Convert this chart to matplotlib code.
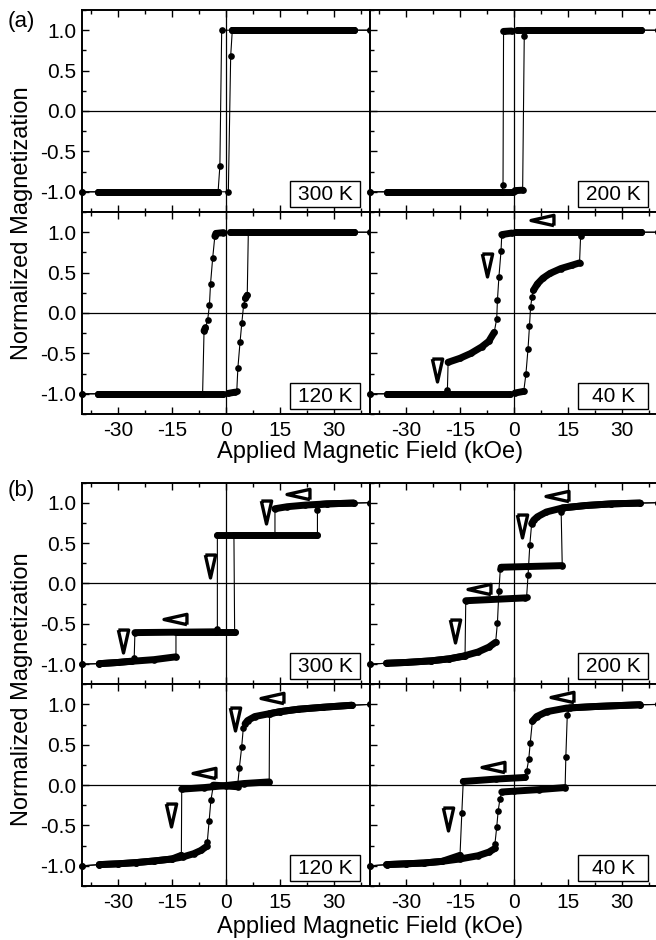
import matplotlib.pyplot as plt
from matplotlib.patches import Rectangle
from matplotlib.ticker import MultipleLocator

plt.rcParams['font.family'] = ['Liberation Sans', 'DejaVu Sans']
plt.rcParams['axes.unicode_minus'] = False

# Each branch: (field kOe, normalized M, 1 if the run to the next point is densely sampled)

# (a) 300 K
A300_DOWN = [(40, 1, 0), (35.5, 1, 1), (1.75, 1, 0), (-1.2, 1, 0), (-1.7, -0.68, 0),
             (-2.2, -1, 1), (-35.5, -1, 0), (-40, -1, 0)]
A300_UP = [(-40, -1, 0), (-35.5, -1, 1), (-2.2, -1, 0), (0.65, -1, 0), (1.3, 0.68, 0),
           (1.75, 1, 1), (35.5, 1, 0), (40, 1, 0)]

# (a) 200 K
A200_DOWN = [(40, 1, 0), (35.3, 1, 1), (0.75, 1, 0), (-0.65, 0.99, 1), (-2.9, 0.985, 0),
             (-3.05, -0.91, 0), (-3.3, -1, 1), (-35.4, -1, 0), (-40, -1, 0)]
A200_UP = [(-40, -1, 0), (-35.4, -1, 1), (-0.2, -1, 0), (0.3, -0.985, 1), (2.4, -0.98, 0),
           (2.85, 0.93, 0), (3.3, 1, 1), (35.3, 1, 0), (40, 1, 0)]

# (a) 120 K
A120_DOWN = [(40, 1, 0), (35.5, 1, 1), (1.1, 1, 0), (-0.7, 0.995, 1), (-2.8, 0.985, 1),
             (-3.1, 0.95, 0), (-3.7, 0.68, 0), (-4.3, 0.36, 0), (-4.6, 0.10, 0),
             (-5.1, -0.09, 0), (-5.7, -0.18, 1), (-6.1, -0.22, 0), (-6.5, -1, 1),
             (-35.5, -1, 0), (-40, -1, 0)]
A120_UP = [(-40, -1, 0), (-35.5, -1, 1), (-0.7, -1, 0), (0.6, -0.995, 1), (2.5, -0.98, 0),
           (3.0, -0.96, 0), (3.3, -0.68, 0), (3.9, -0.36, 0), (4.4, -0.12, 0),
           (4.9, 0.10, 0), (5.4, 0.18, 1), (5.9, 0.22, 0), (6.2, 1, 1), (35.5, 1, 0),
           (40, 1, 0)]

# (a) 40 K
A40_DOWN = [(40, 1, 0), (35.3, 1, 1), (0.3, 1, 0), (-0.6, 0.99, 1), (-3.4, 0.97, 0),
            (-3.6, 0.77, 0), (-4.2, 0.44, 0), (-4.6, 0.16, 0), (-4.8, -0.07, 0),
            (-5.5, -0.24, 1), (-7, -0.35, 1), (-9, -0.42, 1), (-12, -0.5, 1),
            (-15, -0.56, 1), (-18.3, -0.61, 0), (-18.5, -0.95, 0), (-19, -1, 1),
            (-35.3, -1, 0), (-40, -1, 0)]
A40_UP = [(-40, -1, 0), (-35.3, -1, 1), (-1.1, -1, 0), (0.3, -0.99, 1), (2.7, -0.97, 0),
          (3.3, -0.76, 0), (3.9, -0.44, 0), (4.3, -0.16, 0), (4.6, 0.07, 0),
          (5.0, 0.20, 0), (5.4, 0.28, 1), (6.5, 0.36, 1), (8, 0.43, 1), (10, 0.49, 1),
          (13, 0.55, 1), (16, 0.59, 1), (18.2, 0.62, 0), (18.5, 0.95, 0), (19, 1, 1),
          (35.3, 1, 0), (40, 1, 0)]

# (b) 300 K
B300_DOWN = [(40, 1, 0), (35.5, 0.995, 1), (28, 0.985, 1), (22, 0.97, 1), (17, 0.95, 1),
             (13.6, 0.925, 0), (13.6, 0.6, 1), (-2.4, 0.6, 0), (-2.4, -0.57, 0),
             (-2.7, -0.6, 1), (-25.3, -0.61, 0), (-25.5, -0.92, 0), (-26.5, -0.965, 1),
             (-30, -0.98, 1), (-35.2, -0.995, 0), (-40, -1, 0)]
B300_UP = [(-40, -1, 0), (-35.2, -0.995, 1), (-30, -0.98, 1), (-26, -0.965, 1),
           (-20, -0.945, 1), (-13.9, -0.91, 0), (-13.9, -0.6, 1), (2.4, -0.6, 0),
           (2.2, 0.6, 1), (25.4, 0.6, 0), (25.4, 0.91, 0), (26.2, 0.978, 1),
           (28, 0.985, 1), (35.5, 0.995, 0), (40, 1, 0)]

# (b) 200 K
B200_DOWN = [(40, 1, 0), (35, 0.995, 1), (27, 0.985, 1), (20, 0.965, 1), (13.5, 0.935, 1),
             (9, 0.885, 1), (6.5, 0.825, 1), (5.5, 0.785, 1), (4.9, 0.74, 0),
             (4.4, 0.48, 0), (3.9, 0.10, 0), (3.5, -0.17, 0), (3.1, -0.18, 1),
             (-13.4, -0.215, 0), (-13.6, -0.9, 1), (-18, -0.935, 1), (-23, -0.96, 1),
             (-30, -0.98, 1), (-35.4, -0.99, 0), (-40, -1, 0)]
B200_UP = [(-40, -1, 0), (-35.4, -0.99, 1), (-30, -0.98, 1), (-23, -0.96, 1),
           (-18, -0.935, 1), (-14, -0.9, 1), (-10, -0.85, 1), (-7, -0.79, 1),
           (-5.1, -0.73, 0), (-4.6, -0.485, 0), (-4.2, -0.10, 0), (-3.8, 0.18, 0),
           (-3.6, 0.2, 1), (13.4, 0.22, 0), (13.1, 0.89, 0), (13.5, 0.935, 1),
           (20, 0.965, 1), (27, 0.985, 1), (35, 0.995, 0), (40, 1, 0)]

# (b) 120 K
B120_DOWN = [(40, 1, 0), (35, 0.99, 1), (27, 0.965, 1), (20, 0.94, 1), (15, 0.91, 1),
             (12.1, 0.885, 0), (12.0, 0.04, 1), (5, 0.02, 1), (0, -0.005, 1),
             (-6, -0.03, 1), (-12.3, -0.05, 0), (-12.4, -0.87, 1), (-15, -0.915, 1),
             (-20, -0.94, 1), (-25, -0.96, 1), (-30, -0.975, 1), (-35.2, -0.985, 0),
             (-40, -1, 0)]
B120_UP = [(-40, -1, 0), (-35.2, -0.985, 1), (-30, -0.975, 1), (-25, -0.96, 1),
           (-20, -0.94, 1), (-15, -0.915, 1), (-12, -0.89, 1), (-9, -0.85, 1),
           (-7, -0.81, 1), (-5.4, -0.76, 0), (-5.2, -0.705, 0), (-4.7, -0.45, 0),
           (-4.2, -0.19, 0), (-3.5, 0.0, 1), (3.2, -0.02, 0), (3.7, 0.21, 0),
           (4.35, 0.47, 0), (4.8, 0.705, 0), (5.3, 0.76, 1), (6, 0.80, 1), (8, 0.85, 1),
           (12, 0.885, 1), (15, 0.91, 1), (20, 0.94, 1), (27, 0.965, 1), (35, 0.99, 0),
           (40, 1, 0)]

# (b) 40 K
B40_DOWN = [(40, 1, 0), (35, 0.996, 1), (23, 0.975, 1), (14.6, 0.955, 1), (9.1, 0.91, 1),
            (6.3, 0.85, 1), (5.1, 0.79, 0), (4.5, 0.52, 0), (4.1, 0.32, 0),
            (3.5, 0.17, 0), (3.1, 0.095, 1), (-5, 0.075, 1), (-14.1, 0.045, 0),
            (-14.5, -0.35, 0), (-15, -0.87, 1), (-20, -0.945, 1), (-25, -0.965, 1),
            (-30, -0.975, 1), (-35.4, -0.985, 0), (-40, -1, 0)]
B40_UP = [(-40, -1, 0), (-35.4, -0.985, 1), (-30, -0.975, 1), (-25, -0.965, 1),
          (-20, -0.945, 1), (-15, -0.915, 1), (-10, -0.875, 1), (-7, -0.83, 1),
          (-5.3, -0.785, 0), (-5.3, -0.73, 0), (-4.8, -0.52, 0), (-4.4, -0.32, 0),
          (-3.9, -0.17, 0), (-3.4, -0.085, 1), (0, -0.075, 1), (7, -0.055, 1),
          (14.2, -0.03, 0), (14.4, 0.35, 0), (14.8, 0.87, 0), (15.5, 0.957, 1),
          (23, 0.975, 1), (35, 0.996, 0), (40, 1, 0)]

# open arrowheads marking the sweep direction
A40_DN_ARROWS = [(-7.6, 0.60), (-21.3, -0.70)]
A40_LT_ARROWS = [(7.7, 1.15)]
B300_DN_ARROWS = [(-28.7, -0.71), (-4.4, 0.21), (11.0, 0.88)]
B300_LT_ARROWS = [(-14.2, -0.44), (20.1, 1.11)]
B200_DN_ARROWS = [(2.3, 0.71), (-16.4, -0.59)]
B200_LT_ARROWS = [(12.0, 1.08), (-9.6, -0.075)]
B120_DN_ARROWS = [(-15.3, -0.37), (2.5, 0.82)]
B120_LT_ARROWS = [(-6.1, 0.145), (12.7, 1.08)]
B40_DN_ARROWS = [(-18.2, -0.415)]
B40_LT_ARROWS = [(-5.9, 0.22), (13.2, 1.09)]

TEMPS = ['300 K', '200 K', '120 K', '40 K']
X_TICKS = [-30, -15, 0, 15, 30]
Y_TICKS = [-1.0, -0.5, 0.0, 0.5, 1.0]

W, H = 656, 940
fig = plt.figure(figsize=(W / 100, H / 100), dpi=100)

DN_TRI = [(-0.45, 1), (0.45, 1), (0, -1), (-0.45, 1)]
LT_TRI = [(1, -0.45), (1, 0.45), (-1, 0), (1, -0.45)]


def px_axes(x0, y0, x1, y1):
    return fig.add_axes([x0 / W, 1 - y1 / H, (x1 - x0) / W, (y1 - y0) / H])


def thick_run(ax, run):
    ax.plot([p[0] for p in run], [p[1] for p in run], color='k', lw=5.0,
            solid_capstyle='round', solid_joinstyle='round', zorder=4)


def draw_branch(ax, branch):
    hs = [p[0] for p in branch]
    ms = [p[1] for p in branch]
    ax.plot(hs, ms, color='k', lw=0.8, zorder=3)
    run = []
    for i in range(len(branch) - 1):
        if branch[i][2]:
            if not run:
                run = [branch[i]]
            run.append(branch[i + 1])
        elif run:
            thick_run(ax, run)
            run = []
    if run:
        thick_run(ax, run)
    ax.plot(hs, ms, 'o', ms=4.8, color='k', mew=0, zorder=5, clip_on=False)


def draw_arrows(ax, pts, shape):
    for h, m in pts:
        ax.plot(h, m, marker=shape, ms=16.5, mfc='white', mec='k', mew=2.4,
                ls='none', zorder=6, clip_on=False)


def style_axes(ax, left_col, bottom_row):
    ax.set_xlim(-40, 40)
    ax.set_ylim(-1.25, 1.25)
    ax.xaxis.set_minor_locator(MultipleLocator(7.5))
    ax.yaxis.set_minor_locator(MultipleLocator(0.25))
    ax.set_xticks(X_TICKS)
    ax.set_yticks(Y_TICKS)
    ax.set_yticklabels([f'{v:.1f}' for v in Y_TICKS])
    ax.tick_params(which='both', direction='in', top=True, bottom=True, left=True,
                   right=False, width=1.0, labelsize=15)
    ax.tick_params(which='major', length=5, pad=5)
    ax.tick_params(which='minor', length=3)
    ax.tick_params(axis='y', pad=4)
    if not left_col:
        ax.tick_params(labelleft=False)
    if not bottom_row:
        ax.tick_params(labelbottom=False)
    for s in ax.spines.values():
        s.set_linewidth(1.4)
    ax.axhline(0, color='k', lw=0.9, zorder=2)
    ax.axvline(0, color='k', lw=0.9, zorder=2)


def temp_box(ax, label):
    ax.add_patch(Rectangle((0.722, 0.025), 0.244, 0.128, transform=ax.transAxes,
                           facecolor='white', edgecolor='k', lw=1.0, zorder=7))
    ax.text(0.844, 0.087, label, transform=ax.transAxes, ha='center', va='center',
            fontsize=15, zorder=8)


groups = [
    (10, 414, [(A300_DOWN, A300_UP, [], []), (A200_DOWN, A200_UP, [], []),
               (A120_DOWN, A120_UP, [], []),
               (A40_DOWN, A40_UP, A40_DN_ARROWS, A40_LT_ARROWS)]),
    (482.5, 886, [(B300_DOWN, B300_UP, B300_DN_ARROWS, B300_LT_ARROWS),
                  (B200_DOWN, B200_UP, B200_DN_ARROWS, B200_LT_ARROWS),
                  (B120_DOWN, B120_UP, B120_DN_ARROWS, B120_LT_ARROWS),
                  (B40_DOWN, B40_UP, B40_DN_ARROWS, B40_LT_ARROWS)]),
]

x_edges = [82, 370, 658]
for top, bottom, panels in groups:
    mid = (top + bottom) / 2
    y_edges = [top, mid, bottom]
    for k, (down, up, dn_arrows, lt_arrows) in enumerate(panels):
        r, c = divmod(k, 2)
        ax = px_axes(x_edges[c], y_edges[r], x_edges[c + 1], y_edges[r + 1])
        style_axes(ax, c == 0, r == 1)
        draw_branch(ax, down)
        draw_branch(ax, up)
        draw_arrows(ax, dn_arrows, DN_TRI)
        draw_arrows(ax, lt_arrows, LT_TRI)
        temp_box(ax, TEMPS[k])

fig.text(21 / W, 1 - 22 / H, '(a)', fontsize=16, ha='center', va='center')
fig.text(21 / W, 1 - 490 / H, '(b)', fontsize=16, ha='center', va='center')
for yc in (223, 689):
    fig.text(22 / W, 1 - yc / H, 'Normalized Magnetization', fontsize=17,
             rotation=90, ha='center', va='center')
for yc in (452, 927):
    fig.text(370 / W, 1 - yc / H, 'Applied Magnetic Field (kOe)', fontsize=17,
             ha='center', va='center')

fig.savefig('out.png', dpi=100)
